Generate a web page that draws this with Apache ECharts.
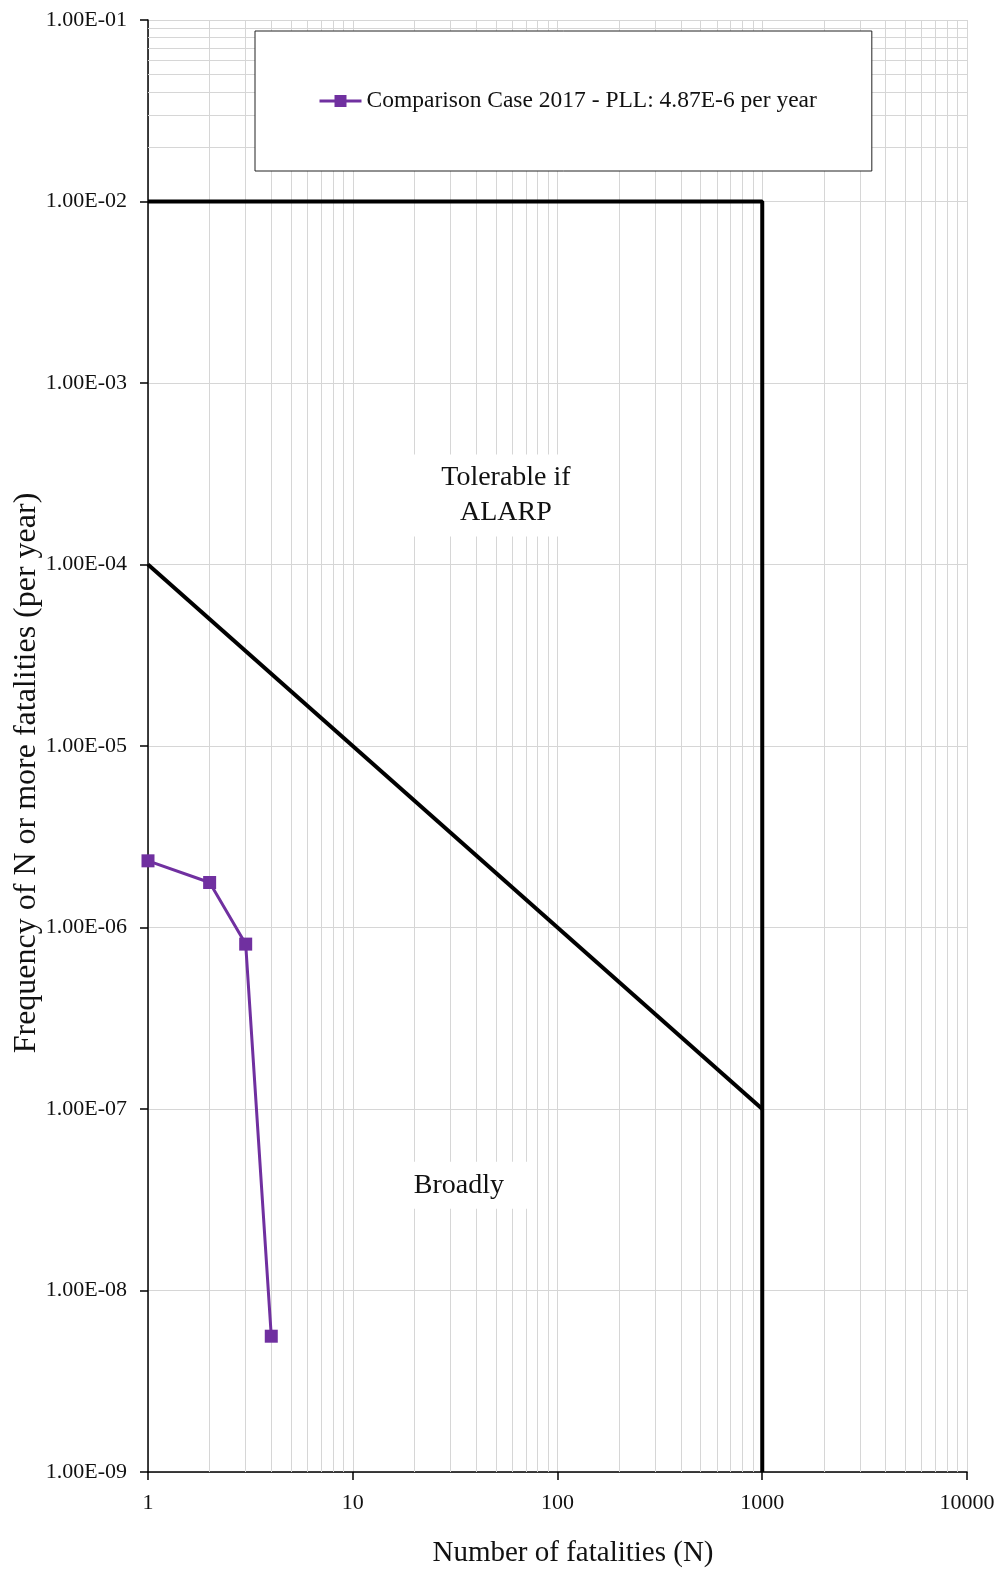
<!DOCTYPE html>
<html>
<head>
<meta charset="utf-8">
<script src="https://cdn.jsdelivr.net/npm/echarts@6/dist/echarts.min.js"></script>
<style>
html,body{margin:0;padding:0;background:#fff;}
#chart{width:1006px;height:1573px;}
</style>
</head>
<body>
<div id="chart"></div>
<script>
// ---- data ----
const caseName = 'Comparison Case 2017 - PLL: 4.87E-6 per year';
const caseN = [1, 2, 3, 4];
const caseFreq = [2.33e-6, 1.77e-6, 8.1e-7, 5.6e-9];

const upperLimitN = [1, 1000, 1000];
const upperLimitF = [1e-2, 1e-2, 1e-9];
const lowerLimitN = [1, 1000];
const lowerLimitF = [1e-4, 1e-7];

const xTicks = [1, 10, 100, 1000, 10000];
const xTickLabels = ['1', '10', '100', '1000', '10000'];
const yTicks = [1e-9, 1e-8, 1e-7, 1e-6, 1e-5, 1e-4, 1e-3, 1e-2, 1e-1];
const yTickLabels = ['1.00E-09', '1.00E-08', '1.00E-07', '1.00E-06', '1.00E-05', '1.00E-04', '1.00E-03', '1.00E-02', '1.00E-01'];
const minorMultipliers = [2, 3, 4, 5, 6, 7, 8, 9];

const regionLabels = ['Tolerable if\nALARP', 'Broadly'];
const regionAnchorN = [56, 33];
const regionAnchorF = [2.4e-4, 3.8e-8];

const xTitle = 'Number of fatalities (N)';
const yTitle = 'Frequency of N or more fatalities (per year)';

// ---- build ----
const FONT = '"Liberation Serif", serif';
const GRID = '#d6d6d6';
const PURPLE = '#7030A0';
const TXT = '#111';

function nearestLabel(v, ticks, labels) {
  let best = 0, bd = Infinity;
  ticks.forEach((t, i) => {
    const d = Math.abs(Math.log10(t) - Math.log10(v));
    if (d < bd) { bd = d; best = i; }
  });
  return bd < 1e-6 ? labels[best] : '';
}

const minorLines = [];
xTicks.slice(0, -1).forEach(d => minorMultipliers.forEach(m => minorLines.push({ xAxis: d * m })));
yTicks.slice(0, -1).forEach(d => minorMultipliers.forEach(m => minorLines.push({ yAxis: d * m })));

const zip = (a, b) => a.map((v, i) => [v, b[i]]);

const chart = echarts.init(document.getElementById('chart'), null, { renderer: 'canvas' });
chart.setOption({
  animation: false,
  backgroundColor: '#fff',
  textStyle: { fontFamily: FONT },
  grid: { left: 148, right: 39, top: 20, bottom: 101, containLabel: false },
  legend: {
    data: [caseName],
    left: 255, top: 31, z: 20,
    itemWidth: 42, itemHeight: 15, itemGap: 0,
    textStyle: { fontFamily: FONT, fontSize: 23.5, color: TXT },
    lineStyle: { width: 3, color: PURPLE },
    backgroundColor: '#fff', borderColor: '#222', borderWidth: 1,
    padding: [58, 55, 58, 63]
  },
  xAxis: {
    type: 'log', logBase: 10, min: 1, max: 10000, interval: 1,
    axisLine: { show: true, lineStyle: { color: '#000', width: 1.5 } },
    axisTick: { show: true, length: 8, lineStyle: { color: '#000', width: 1.5 } },
    axisLabel: { margin: 20, fontSize: 22, color: TXT, fontFamily: FONT,
      formatter: v => nearestLabel(v, xTicks, xTickLabels) },
    splitLine: { show: true, lineStyle: { color: GRID, width: 1 } },
    minorTick: { show: false }, minorSplitLine: { show: false }
  },
  yAxis: {
    type: 'log', logBase: 10, min: 1e-9, max: 1e-1, interval: 1,
    axisLine: { show: true, lineStyle: { color: '#000', width: 1.5 } },
    axisTick: { show: true, length: 8, lineStyle: { color: '#000', width: 1.5 } },
    axisLabel: { margin: 21, fontSize: 22, color: TXT, fontFamily: FONT,
      formatter: v => nearestLabel(v, yTicks, yTickLabels) },
    splitLine: { show: true, lineStyle: { color: GRID, width: 1 } }
  },
  graphic: [
    { type: 'text', z: 50, x: 573, y: 1553,
      style: { text: xTitle, font: '29px ' + FONT, fill: TXT, align: 'center', verticalAlign: 'middle' } },
    { type: 'text', z: 50, x: 27, y: 773, rotation: Math.PI / 2,
      style: { text: yTitle, font: '32px ' + FONT, fill: TXT, align: 'center', verticalAlign: 'middle' } }
  ],
  series: [
    {
      name: 'minorGrid', type: 'line', data: [], z: 1, silent: true,
      markLine: {
        silent: true, symbol: 'none', animation: false,
        label: { show: false },
        lineStyle: { color: GRID, width: 1, type: 'solid' },
        emphasis: { disabled: true },
        data: minorLines
      }
    },
    {
      name: 'upper', type: 'line', data: zip(upperLimitN, upperLimitF), z: 5,
      symbol: 'none', clip: false, lineStyle: { color: '#000', width: 4 }
    },
    {
      name: 'lower', type: 'line', data: zip(lowerLimitN, lowerLimitF), z: 5,
      symbol: 'none', clip: false, lineStyle: { color: '#000', width: 4 }
    },
    {
      name: 'regions', type: 'scatter', z: 6, symbolSize: 1, silent: true,
      itemStyle: { opacity: 0 },
      data: regionLabels.map((t, i) => ({ value: [regionAnchorN[i], regionAnchorF[i]], label: { formatter: t } })),
      label: {
        show: true, position: 'inside', fontFamily: FONT, fontSize: 28, lineHeight: 35,
        color: TXT, opacity: 1, backgroundColor: '#fff', padding: [6, 28], align: 'center'
      }
    },
    {
      name: caseName, type: 'line', data: zip(caseN, caseFreq), z: 8, clip: false,
      symbol: 'rect', symbolSize: 13,
      lineStyle: { color: PURPLE, width: 3 },
      itemStyle: { color: PURPLE }
    }
  ]
});
</script>
</body>
</html>
